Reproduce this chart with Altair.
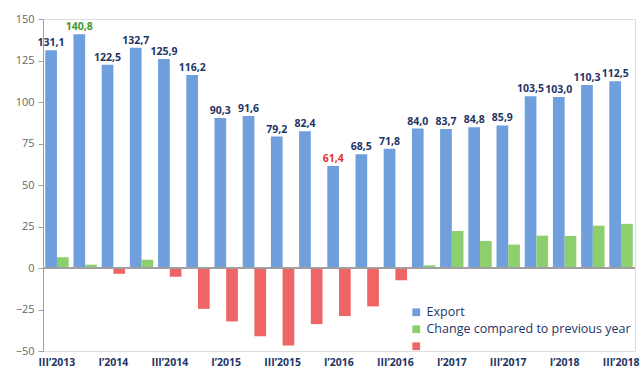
import altair as alt
import pandas as pd

quarters = ["III’2013", "IV’2013", "I’2014", "II’2014", "III’2014", "IV’2014",
            "I’2015", "II’2015", "III’2015", "IV’2015", "I’2016", "II’2016",
            "III’2016", "IV’2016", "I’2017", "II’2017", "III’2017", "IV’2017",
            "I’2018", "II’2018", "III’2018"]
export = [131.1, 140.8, 122.5, 132.7, 125.9, 116.2, 90.3, 91.6, 79.2, 82.4, 61.4,
          68.5, 71.8, 84.0, 83.7, 84.8, 85.9, 103.5, 103.0, 110.3, 112.5]
change = [6.5, 2.0, -3.5, 5.0, -5.2, -24.6, -32.2, -41.1, -46.7, -33.8, -28.9,
          -23.1, -7.4, 1.6, 22.3, 16.3, 14.1, 19.5, 19.3, 25.5, 26.6]
label_colors = {1: "#3c9a2e", 10: "#e8322c"}

EXP = "Export"
CHG = "Change compared to previous year"
NEG = "Decrease"

rows = []
for i, q in enumerate(quarters):
    rows.append({"q": q, "grp": "a", "cat": EXP, "v": export[i],
                 "lbl": f"{export[i]:.1f}".replace(".", ","),
                 "lc": label_colors.get(i, "#1f3566")})
    rows.append({"q": q, "grp": "b", "cat": CHG if change[i] >= 0 else NEG,
                 "v": change[i], "lbl": "", "lc": "#1f3566"})
df = pd.DataFrame(rows)

xenc = alt.X("q:N", sort=quarters, title=None,
             scale=alt.Scale(paddingInner=0.17, paddingOuter=0.08),
             axis=alt.Axis(values=quarters[::2], orient="bottom", domain=False,
                           ticks=False, labelAngle=0, labelFont="Open Sans",
                           labelFontWeight="bold", labelFontSize=10.5,
                           labelColor="#1f3566", labelPadding=6))

bars = alt.Chart(df).mark_bar(stroke=None).encode(
    x=xenc,
    xOffset=alt.XOffset("grp:N", sort=["a", "b"], scale=alt.Scale(paddingInner=0.0)),
    y=alt.Y("v:Q", title=None,
            scale=alt.Scale(domain=[-50, 150], nice=False, zero=False),
            axis=alt.Axis(values=[-50, -25, 0, 25, 50, 75, 100, 125, 150],
                          grid=False, domainColor="#a0a0a0", tickColor="#a0a0a0",
                          tickSize=5, labelFont="Open Sans", labelFontSize=11,
                          labelColor="#666666", labelPadding=4)),
    color=alt.Color("cat:N", title=None,
                    scale=alt.Scale(domain=[EXP, CHG, NEG],
                                    range=["#6f9fdc", "#8ccf6c", "#ef6464"]),
                    legend=alt.Legend(orient="none", legendX=367, legendY=287,
                                      symbolType="square", symbolSize=60,
                                      labelFont="Open Sans", labelFontSize=12.5,
                                      labelColor="#1f3566", rowPadding=4,
                                      labelLimit=0, symbolStrokeWidth=0,
                                      labelExpr="datum.label == 'Decrease' ? '\u00a0' : datum.label")),
)

labels = alt.Chart(df[df.grp == "a"]).mark_text(
    baseline="bottom", dy=-2, font="Open Sans", fontWeight="bold", fontSize=10.5
).encode(
    x=alt.X("q:N", sort=quarters),
    xOffset=alt.XOffset("grp:N", sort=["a", "b"]),
    y="v:Q",
    text="lbl:N",
    color=alt.Color("lc:N", scale=None),
)

zero = alt.Chart(df).mark_rule(color="#a0a0a0", strokeWidth=1).encode(y=alt.datum(0))

chart = alt.layer(bars, zero, labels).properties(
    width=592, height=332,
    autosize=alt.AutoSizeParams(type="none"),
    padding={"left": 43, "top": 19, "right": 8, "bottom": 18},
).configure_view(stroke=None).configure(background="white")

chart.save("out.html", embed_options={"renderer": "svg", "actions": False})
